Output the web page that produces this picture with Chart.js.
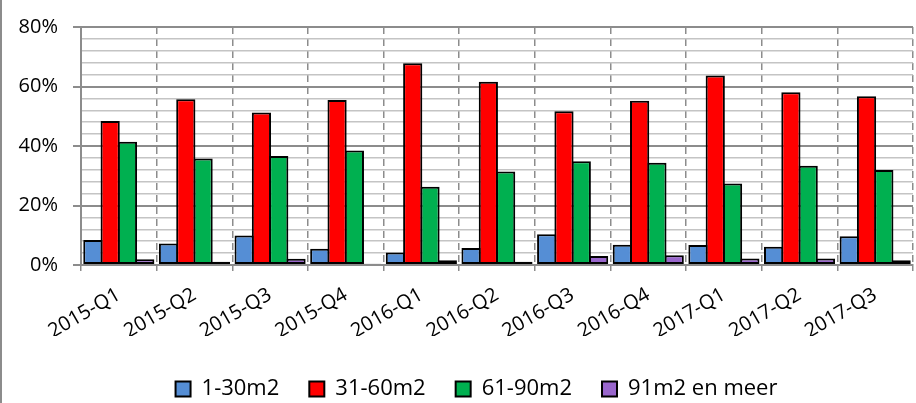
<!DOCTYPE html>
<html>
<head>
<meta charset="utf-8">
<script src="https://cdn.jsdelivr.net/npm/chart.js@4"></script>
<style>
  html, body { margin: 0; padding: 0; background: #ffffff; }
  #wrap { width: 916px; height: 403px; position: relative; }
</style>
</head>
<body>
<div id="wrap"><canvas id="c" width="916" height="403"></canvas></div>
<script>
const categories = ['2015-Q1','2015-Q2','2015-Q3','2015-Q4','2016-Q1','2016-Q2','2016-Q3','2016-Q4','2017-Q1','2017-Q2','2017-Q3'];
const seriesNames = ['1-30m2', '31-60m2', '61-90m2', '91m2 en meer'];
const s1_30 = [8.4, 7.2, 9.9, 5.5, 4.2, 5.7, 10.3, 6.8, 6.7, 6.1, 9.7];
const s31_60 = [48.4, 55.7, 51.3, 55.5, 67.8, 61.6, 51.7, 55.2, 63.7, 58.1, 56.7];
const s61_90 = [41.4, 35.8, 36.6, 38.5, 26.3, 31.4, 34.9, 34.4, 27.4, 33.4, 31.9];
const s91plus = [1.9, 1.1, 2.1, 0.4, 1.6, 1.1, 3.0, 3.3, 2.2, 2.2, 1.6];
const yTickLabels = ['0%', '20%', '40%', '60%', '80%'];

const colors = ['#558ED5', '#FF0000', '#00B050', '#9966CC'];
const values = [s1_30, s31_60, s61_90, s91plus];

const frame = {
  id: 'frame',
  afterLayout(chart) {
    if (chart.legend) {
      chart.legend.left = 40;
      chart.legend.top = 348;
    }
  },
  afterDraw(chart) {
    const ctx = chart.ctx;
    ctx.save();
    ctx.strokeStyle = '#8c8c8c';
    ctx.lineWidth = 2;
    ctx.beginPath();
    ctx.moveTo(1, 0);
    ctx.lineTo(1, chart.height);
    ctx.stroke();
    ctx.restore();
  }
};

const font = { family: '"Open Sans"', size: 20 };
const legendFont = { family: '"Open Sans"', size: 22 };

new Chart(document.getElementById('c'), {
  type: 'bar',
  data: {
    labels: categories,
    datasets: seriesNames.map((n, i) => ({
      label: n,
      data: values[i],
      backgroundColor: colors[i],
      borderColor: '#000000',
      borderWidth: 2,
      borderSkipped: false,
      categoryPercentage: 0.915,
      barPercentage: 1.11
    }))
  },
  options: {
    responsive: false,
    animation: false,
    devicePixelRatio: 1,
    layout: { padding: { left: 0, right: 3, top: 21, bottom: 5 } },
    plugins: {
      legend: {
        position: 'bottom',
        labels: {
          font: legendFont,
          color: '#000000',
          boxWidth: 15,
          boxHeight: 15,
          padding: 30
        }
      },
      tooltip: { enabled: false }
    },
    scales: {
      x: {
        afterFit(scale) { scale.height = 71; },
        grid: {
          offset: true,
          color: '#8c8c8c',
          lineWidth: 1.5,
          tickLength: 6,
          tickColor: '#8c8c8c',
          tickBorderDash: [1, 0],
          tickWidth: 1.5
        },
        border: { color: '#8c8c8c', width: 2, dash: [7, 5] },
        ticks: {
          font: font,
          color: '#000000',
          maxRotation: 30,
          minRotation: 30,
          padding: 12,
          autoSkip: false
        }
      },
      y: {
        min: 0,
        max: 80,
        afterFit(scale) { scale.width = 81; },
        grid: {
          color: (c) => (c.tick && c.tick.value % 20 === 0) ? '#8c8c8c' : '#c4c4c4',
          lineWidth: (c) => (c.tick && c.tick.value % 20 === 0) ? 2 : 1.5,
          tickLength: 8,
          tickColor: (c) => (c.tick && c.tick.value % 20 === 0) ? '#8c8c8c' : 'rgba(0,0,0,0)'
        },
        border: { color: '#8c8c8c', width: 2 },
        ticks: {
          stepSize: 4,
          autoSkip: false,
          font: font,
          color: '#000000',
          padding: 15,
          callback: (v) => (v % 20 === 0) ? yTickLabels[v / 20] : ''
        }
      }
    }
  },
  plugins: [frame]
});
</script>
</body>
</html>
